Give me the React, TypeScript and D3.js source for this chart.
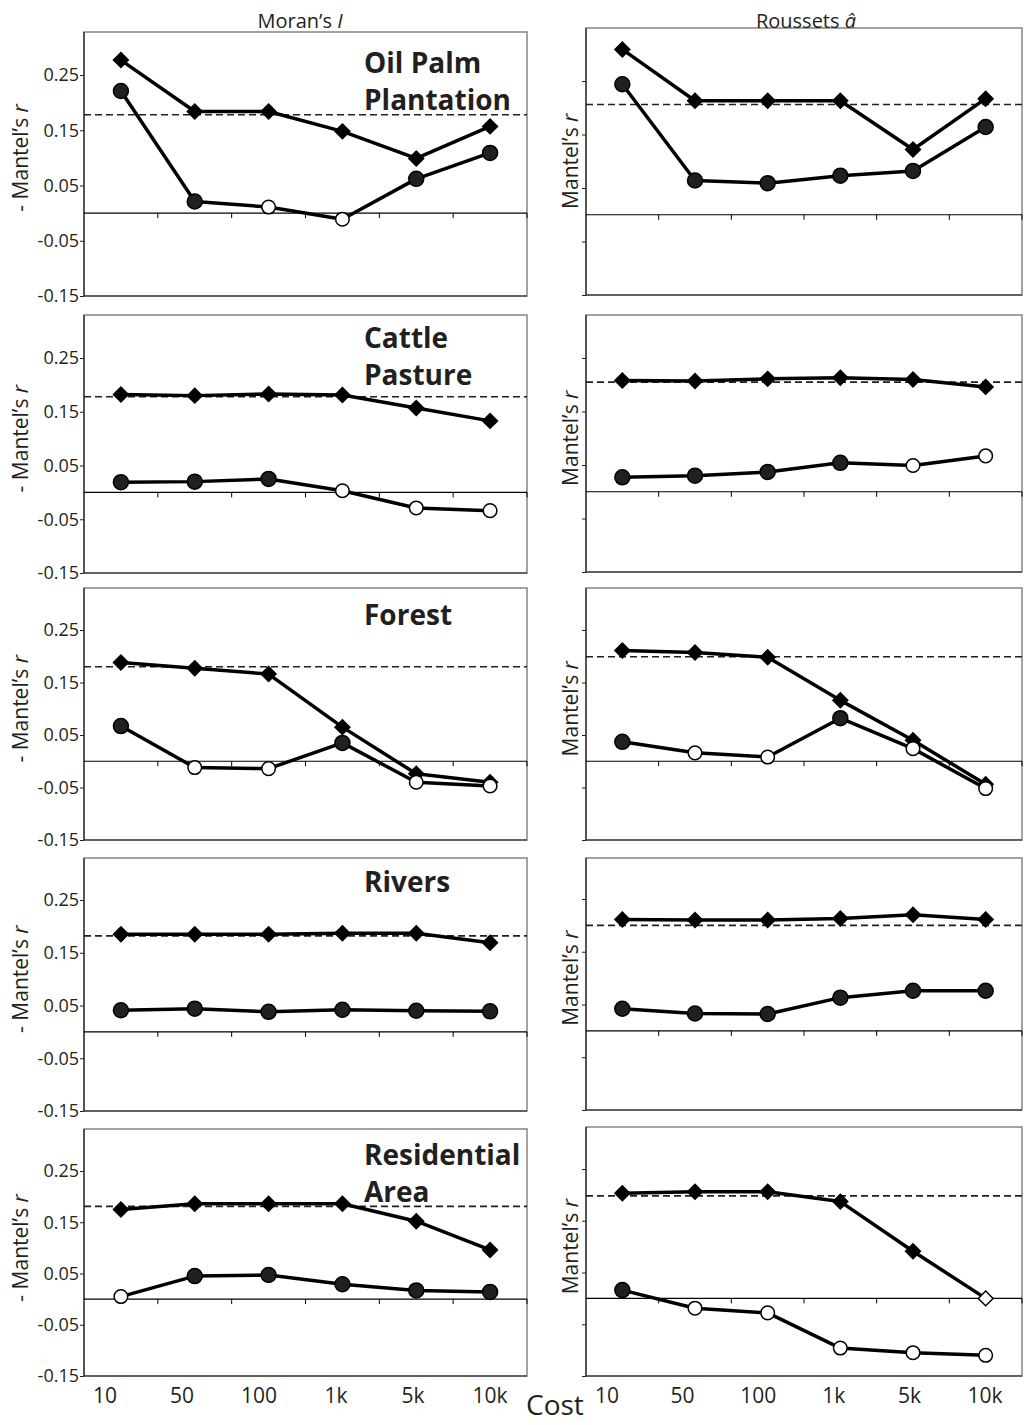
import React, { useEffect, useRef } from 'react';
import * as d3 from 'd3';

// x categories (cost values) and y ticks
const costs = ['10', '50', '100', '1k', '5k', '10k'];
const yTicks = [-0.15, -0.05, 0.05, 0.15, 0.25];
const landCovers = [['Oil Palm', 'Plantation'], ['Cattle', 'Pasture'], ['Forest'], ['Rivers'], ['Residential', 'Area']];

// Moran's I column: diamonds (upper) and circles (lower), 1 = filled marker, 0 = open
const moranUpper = [
  [0.277, 0.184, 0.184, 0.148, 0.099, 0.157],
  [0.182, 0.180, 0.183, 0.181, 0.157, 0.133],
  [0.188, 0.177, 0.166, 0.065, -0.024, -0.040],
  [0.185, 0.185, 0.185, 0.187, 0.187, 0.169],
  [0.175, 0.186, 0.186, 0.186, 0.152, 0.096]
];
const moranUpperFilled = [
  [1, 1, 1, 1, 1, 1], [1, 1, 1, 1, 1, 1], [1, 1, 1, 1, 1, 1], [1, 1, 1, 1, 1, 1], [1, 1, 1, 1, 1, 1]
];
const moranLower = [
  [0.221, 0.021, 0.011, -0.011, 0.062, 0.109],
  [0.019, 0.020, 0.025, 0.003, -0.029, -0.034],
  [0.067, -0.012, -0.014, 0.035, -0.040, -0.047],
  [0.041, 0.044, 0.038, 0.042, 0.040, 0.039],
  [0.005, 0.045, 0.047, 0.029, 0.017, 0.014]
];
const moranLowerFilled = [
  [1, 1, 0, 0, 1, 1], [1, 1, 1, 0, 0, 0], [1, 0, 0, 1, 0, 0], [1, 1, 1, 1, 1, 1], [0, 1, 1, 1, 1, 1]
];
const moranThreshold = [0.178, 0.178, 0.180, 0.182, 0.181];

// Rousset's a column
const roussetUpper = [
  [0.309, 0.213, 0.213, 0.213, 0.122, 0.217],
  [0.208, 0.207, 0.211, 0.213, 0.210, 0.196],
  [0.211, 0.207, 0.198, 0.116, 0.040, -0.044],
  [0.211, 0.210, 0.210, 0.213, 0.220, 0.211],
  [0.203, 0.206, 0.206, 0.187, 0.091, 0.000]
];
const roussetUpperFilled = [
  [1, 1, 1, 1, 1, 1], [1, 1, 1, 1, 1, 1], [1, 1, 1, 1, 1, 1], [1, 1, 1, 1, 1, 1], [1, 1, 1, 1, 1, 0]
];
const roussetLower = [
  [0.244, 0.064, 0.059, 0.073, 0.082, 0.164],
  [0.027, 0.030, 0.037, 0.054, 0.049, 0.067],
  [0.037, 0.016, 0.008, 0.082, 0.024, -0.052],
  [0.042, 0.033, 0.032, 0.063, 0.076, 0.076],
  [0.016, -0.019, -0.028, -0.096, -0.105, -0.110]
];
const roussetLowerFilled = [
  [1, 1, 1, 1, 1, 1], [1, 1, 1, 1, 0, 0], [1, 0, 0, 1, 0, 0], [1, 1, 1, 1, 1, 1], [1, 0, 0, 0, 0, 0]
];
const roussetThreshold = [0.206, 0.205, 0.199, 0.200, 0.198];

const FONT = '"Open Sans", "Noto Sans", sans-serif';
const INK = '#231f20';

export default function App() {
  const svgRef = useRef<SVGSVGElement>(null);

  useEffect(() => {
    const svg = d3.select(svgRef.current);
    svg.selectAll('*').remove();

    // panel placement (box top, y of 0.25, y of -0.15) per row
    const columns = [
      {
        left: 84, right: 527, labelX: 28, yLabel: '- Mantel\u2019s ', tickLabels: true,
        upper: moranUpper, upperFilled: moranUpperFilled, lower: moranLower, lowerFilled: moranLowerFilled,
        threshold: moranThreshold,
        rows: [
          { top: 32, y25: 75, bottom: 296 },
          { top: 315, y25: 358, bottom: 573 },
          { top: 588, y25: 630, bottom: 840 },
          { top: 858, y25: 900, bottom: 1111 },
          { top: 1129, y25: 1171, bottom: 1376 }
        ]
      },
      {
        left: 586, right: 1022, labelX: 578, yLabel: 'Mantel\u2019s ', tickLabels: false,
        upper: roussetUpper, upperFilled: roussetUpperFilled, lower: roussetLower, lowerFilled: roussetLowerFilled,
        threshold: roussetThreshold,
        rows: [
          { top: 28, y25: 81, bottom: 295 },
          { top: 315, y25: 358, bottom: 572 },
          { top: 588, y25: 630, bottom: 840 },
          { top: 858, y25: 899, bottom: 1110 },
          { top: 1127, y25: 1169, bottom: 1376 }
        ]
      }
    ];
    const titleY = [73, 348, 625, 892, 1165];

    const diamond = d3.symbol().type(d3.symbolSquare).size(110);

    columns.forEach((c, ci) => {
      const x = d3.scaleBand().domain(costs).range([c.left, c.right]);
      const cx = (j: number) => (x(costs[j]) as number) + x.bandwidth() / 2;

      c.rows.forEach((r, i) => {
        const y = d3.scaleLinear().domain([-0.15, 0.25]).range([r.bottom, r.y25]);
        const g = svg.append('g');

        // frame
        g.append('rect')
          .attr('x', c.left).attr('y', r.top)
          .attr('width', c.right - c.left).attr('height', r.bottom - r.top)
          .attr('fill', 'none').attr('stroke', '#8c8c8c').attr('stroke-width', 1.6);

        // y axis
        const yAxis = g.append('g')
          .attr('transform', `translate(${c.left},0)`)
          .call(d3.axisLeft(y).tickValues(yTicks).tickSize(4).tickSizeOuter(0).tickPadding(1)
            .tickFormat(d => (c.tickLabels ? (d as number).toFixed(2) : '')));
        yAxis.select('.domain').remove();
        yAxis.selectAll('line').attr('stroke', INK);
        yAxis.selectAll('text').attr('font-family', FONT).attr('font-size', 18).attr('fill', INK);
        g.append('line')
          .attr('x1', c.left).attr('x2', c.left).attr('y1', r.top).attr('y2', r.bottom)
          .attr('stroke', INK).attr('stroke-width', 1.2);
        g.append('line')
          .attr('x1', c.left).attr('x2', c.right).attr('y1', r.bottom).attr('y2', r.bottom)
          .attr('stroke', INK).attr('stroke-width', 1.2);

        // zero line with ticks at band edges
        g.append('line')
          .attr('x1', c.left).attr('x2', c.right).attr('y1', y(0)).attr('y2', y(0))
          .attr('stroke', '#000').attr('stroke-width', 1.1);
        g.selectAll('.xt')
          .data(costs.slice(1).map(d => x(d) as number).concat([c.right]))
          .enter().append('line')
          .attr('x1', d => d).attr('x2', d => d)
          .attr('y1', y(0)).attr('y2', y(0) + 5)
          .attr('stroke', '#000').attr('stroke-width', 1);

        // threshold
        g.append('line')
          .attr('x1', c.left).attr('x2', c.right)
          .attr('y1', y(c.threshold[i])).attr('y2', y(c.threshold[i]))
          .attr('stroke', INK).attr('stroke-width', 1.6).attr('stroke-dasharray', '7,4');

        const line = d3.line<number>().x((d, j) => cx(j)).y(d => y(d));

        g.append('path').attr('d', line(c.upper[i])).attr('fill', 'none')
          .attr('stroke', '#000').attr('stroke-width', 3.5).attr('stroke-linejoin', 'round');
        g.append('path').attr('d', line(c.lower[i])).attr('fill', 'none')
          .attr('stroke', '#000').attr('stroke-width', 3.5).attr('stroke-linejoin', 'round');

        g.selectAll('.dm')
          .data(c.upper[i])
          .enter().append('path')
          .attr('d', diamond() as string)
          .attr('transform', (d, j) => `translate(${cx(j)},${y(d)}) rotate(45)`)
          .attr('fill', (d, j) => (c.upperFilled[i][j] ? '#000' : '#fff'))
          .attr('stroke', '#000').attr('stroke-width', 1.5);

        g.selectAll('.ci')
          .data(c.lower[i])
          .enter().append('circle')
          .attr('cx', (d, j) => cx(j)).attr('cy', d => y(d))
          .attr('r', (d, j) => (c.lowerFilled[i][j] ? 7.5 : 6.8))
          .attr('fill', (d, j) => (c.lowerFilled[i][j] ? INK : '#fff'))
          .attr('stroke', '#000').attr('stroke-width', 1.5);

        // y label
        const yl = g.append('text')
          .attr('transform', `translate(${c.labelX},${y(0.1)}) rotate(-90)`)
          .attr('text-anchor', 'middle')
          .attr('font-family', FONT).attr('font-size', 21).attr('fill', INK);
        yl.append('tspan').text(c.yLabel);
        yl.append('tspan').attr('font-style', 'italic').text('r');

        // land cover title
        if (ci === 0) {
          landCovers[i].forEach((t, k) => {
            g.append('text')
              .attr('x', 364).attr('y', titleY[i] + k * 37)
              .attr('font-family', FONT).attr('font-weight', 'bold').attr('font-size', 28)
              .attr('fill', INK).text(t);
          });
        }

        // cost labels under the last row
        if (i === c.rows.length - 1) {
          const xl = d3.scalePoint().domain(costs).range([c.left + 21, c.right - 37]);
          g.selectAll('.xl')
            .data(costs)
            .enter().append('text')
            .attr('x', d => xl(d) as number).attr('y', 1403)
            .attr('text-anchor', 'middle')
            .attr('font-family', FONT).attr('font-size', 21).attr('fill', INK)
            .text(d => d);
        }
      });
    });

    // column headers
    const h1 = svg.append('text').attr('x', 300).attr('y', 28).attr('text-anchor', 'middle')
      .attr('font-family', FONT).attr('font-size', 20).attr('fill', INK);
    h1.append('tspan').text('Moran\u2019s ');
    h1.append('tspan').attr('font-style', 'italic').text('I');

    const h2 = svg.append('text').attr('x', 806).attr('y', 28).attr('text-anchor', 'middle')
      .attr('font-family', FONT).attr('font-size', 20).attr('fill', INK);
    h2.append('tspan').text('Roussets ');
    h2.append('tspan').attr('font-style', 'italic').text('\u00e2');

    svg.append('text').attr('x', 526).attr('y', 1415)
      .attr('font-family', FONT).attr('font-size', 28).attr('fill', INK).text('Cost');
  }, []);

  return (
    <svg ref={svgRef} width={1024} height={1425}
      style={{ position: 'absolute', left: 0, top: 0, background: '#fff' }} />
  );
}
